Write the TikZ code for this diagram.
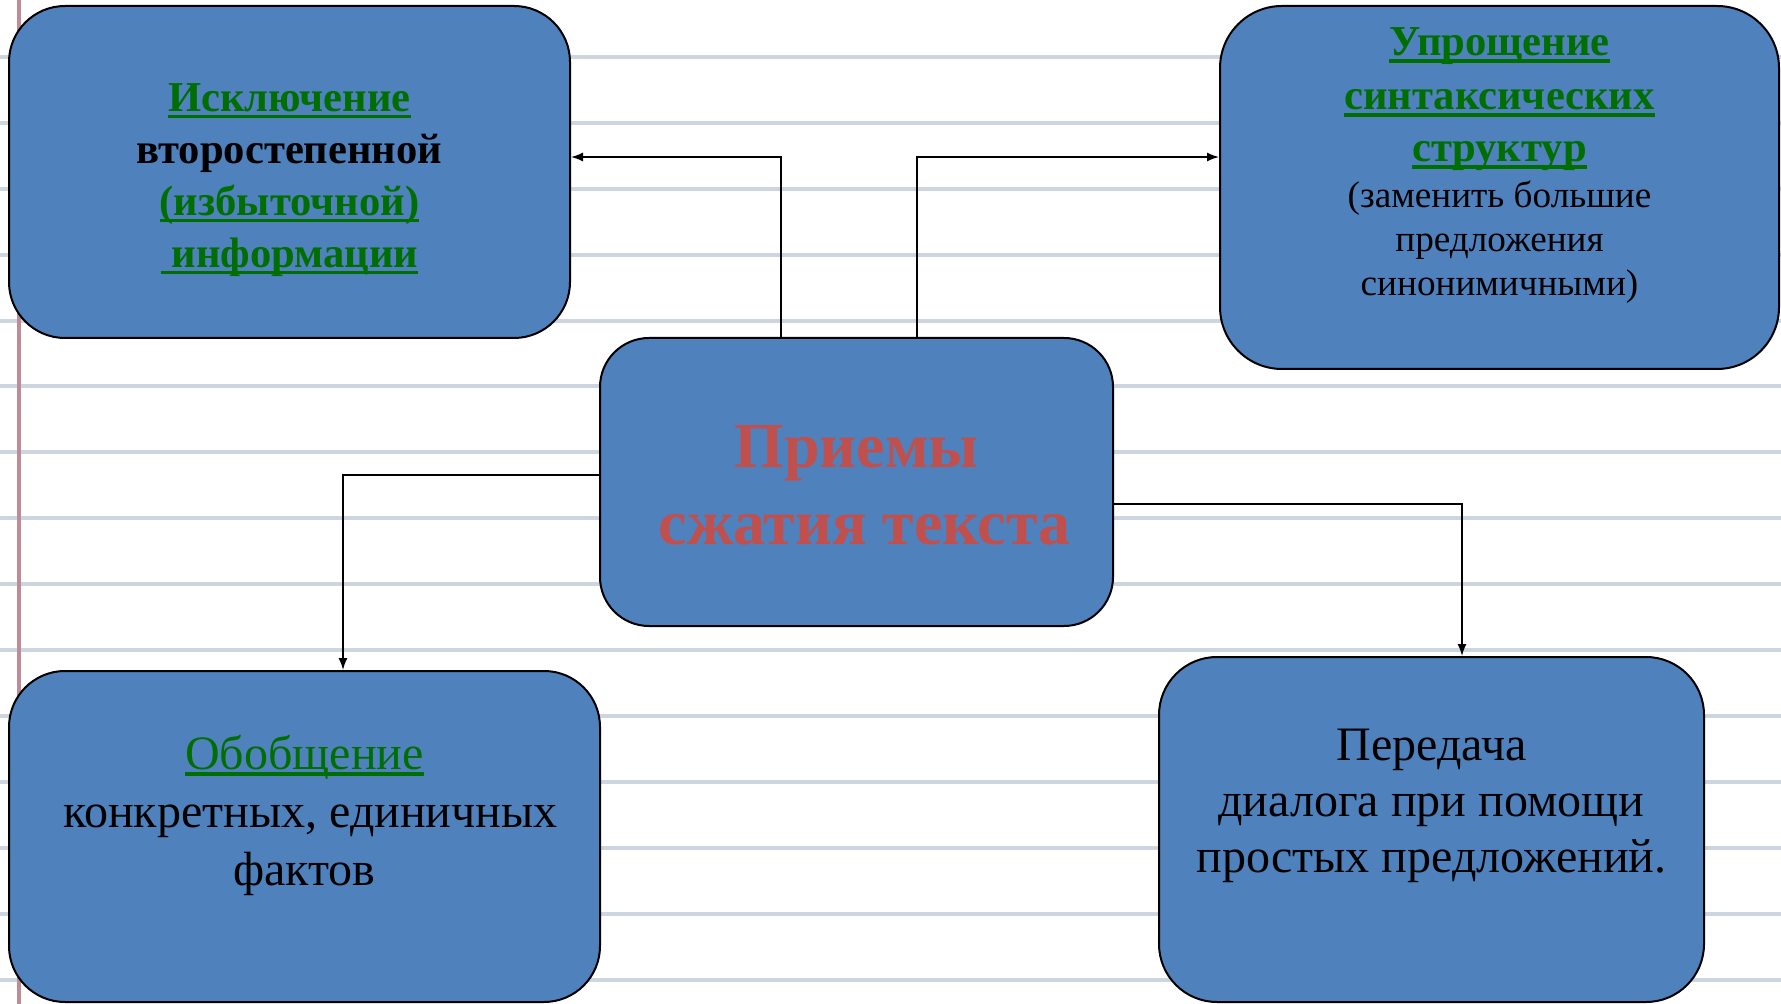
\documentclass[tikz,border=0pt]{standalone}
\usepackage{fontspec}
\setmainfont{Liberation Serif}
\usepackage{tikz}
\usetikzlibrary{positioning}
\usetikzlibrary{arrows.meta}

\definecolor{boxblue}{RGB}{79,129,189}
\definecolor{titlered}{RGB}{192,80,77}
\definecolor{keygreen}{RGB}{0,110,0}
\definecolor{ruleblue}{RGB}{205,214,224}
\definecolor{marginred}{RGB}{190,140,150}

\newsavebox{\keybox}
\newcommand{\keyw}[1]{\textcolor{keygreen}{\sbox{\keybox}{#1}%
  \rlap{\rule[-3.5pt]{\wd\keybox}{1.8pt}}\usebox{\keybox}}}
\newcommand{\keyhd}[1]{{\fontsize{21.3}{26}\selectfont\bfseries\keyw{#1}}}

\tikzset{
  box/.style={draw,line width=1pt,fill=boxblue,rounded corners=#1},
  box/.default=28pt,
  txt/.style={align=center,inner sep=0pt},
  conn/.style={line width=0.75pt,-{Latex[length=6pt,width=4.5pt]}},
  ruleline/.style={ruleblue,line width=2pt},
  marginline/.style={marginred,line width=1.6pt}
}

\begin{document}
\begin{tikzpicture}[x=0.5pt,y=-0.5pt]
\useasboundingbox (0,0) rectangle (1781,1004);
\fill[white] (0,0) rectangle (1781,1004);
\foreach \k in {0,...,14}
  \draw[ruleline] (0,{57+65.9*\k}) -- (1781,{57+65.9*\k});
\draw[marginline] (19,0) -- (19,1004);

% boxes
\node[box,minimum width=280.5pt,minimum height=166pt] (excl) at (289.5,172) {};
\node[box=31pt,minimum width=279.5pt,minimum height=181.5pt] (simpl) at (1499.5,187.5) {};
\node[box=24.5pt,minimum width=256.5pt,minimum height=144pt] (ctr) at (856.5,482) {};
\node[box,minimum width=295.5pt,minimum height=165.5pt] (gen) at (304.5,836.5) {};
\node[box=29pt,minimum width=272.5pt,minimum height=172.5pt] (dial) at (1431.5,829.5) {};

% texts
\node[txt,font=\fontsize{21.3}{26}\selectfont\bfseries] (excl-t) at (289.5,180)
  {\keyw{Исключение}\\второстепенной\\\keyw{(избыточной)}\\\keyw{\ информации}};
\node[txt,font=\fontsize{18.6}{22}\selectfont] (simpl-t) at (1499.5,166)
  {\keyhd{Упрощение}\\[5pt]\keyhd{синтаксических}\\[4pt]\keyhd{структур}\\[1pt]
   (заменить большие\\предложения\\синонимичными)};
\node[txt,font=\fontsize{32}{38.5}\selectfont\bfseries,text=titlered] (ctr-t) at (856.5,485)
  {Приемы\\\ сжатия текста};
\node[txt,font=\fontsize{24}{29}\selectfont] (gen-t) at (304.5,815)
  {\keyw{Обобщение}\\\ конкретных, единичных\\фактов};
\node[txt,font=\fontsize{24}{28}\selectfont] (dial-t) at (1431.5,806)
  {Передача\\диалога при помощи\\простых предложений.};

% connectors
\coordinate (j1) at (781,157);
\coordinate (j2) at (917,157);
\coordinate (j3) at (343,475);
\coordinate (j4) at (1462,504);
\draw[conn] (ctr.north -| j1) |- (excl.east |- j1);
\draw[conn] (ctr.north -| j2) |- (simpl.west |- j2);
\draw[conn] (ctr.west |- j3) -| (gen.north -| j3);
\draw[conn] (ctr.east |- j4) -| (dial.north -| j4);
\end{tikzpicture}
\end{document}
